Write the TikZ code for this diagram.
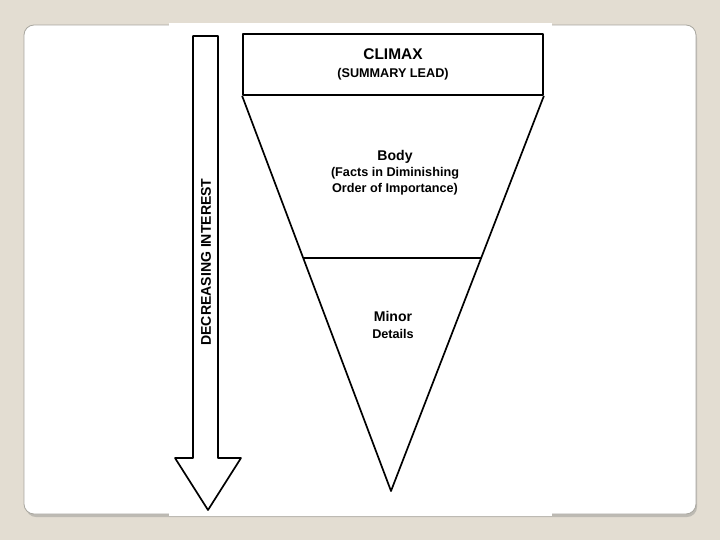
\documentclass[tikz,border=0pt]{standalone}
\usepackage{fontspec}
\setmainfont{Liberation Sans}
\usepackage{tikz}
\usetikzlibrary{calc}
\definecolor{PageBg}{HTML}{E3DDD2}
\definecolor{CardEdge}{HTML}{A9A7A0}
\definecolor{CardShade}{HTML}{BDBAB3}

\begin{document}
\begin{tikzpicture}[
  x=0.025cm,y=-0.025cm,
  lbl/.style={font=\bfseries\fontsize{9}{11.5}\selectfont,align=center,inner sep=0pt},
  ln/.style={line width=1.2pt,line join=round}
]
  % slide background and card
  \fill[PageBg] (0,0) rectangle (720,540);
  \useasboundingbox (0,0) rectangle (720,540);
  \fill[CardShade,rounded corners=0.25cm] (26,28) rectangle (697,517);
  \filldraw[fill=white,draw=CardEdge,line width=0.6pt,rounded corners=0.25cm] (24,25) rectangle (696,514);
  \fill[white] (169,23) rectangle (552,516);

  % inverted pyramid
  \node[draw,ln,minimum width=7.5cm,minimum height=1.525cm,lbl,
    font=\bfseries\fontsize{9}{12.8}\selectfont] (lead) at (393,64.5)
    {{\fontsize{11}{12.8}\selectfont CLIMAX}\\(SUMMARY LEAD)};
  \coordinate (tip) at (391,491);
  \draw[ln] (lead.south west) -- (tip) -- (lead.south east);
  \coordinate (divL) at ($(lead.south west)!0.41!(tip)$);
  \coordinate (divR) at ($(lead.south east)!0.41!(tip)$);
  \draw[ln] (divL) -- (divR);
  \node[lbl] (body) at (395,172.5)
    {{\fontsize{10}{11.5}\selectfont Body}\\(Facts in Diminishing\\Order of Importance)};
  \node[lbl] (minor) at (393,325)
    {{\fontsize{10}{11.5}\selectfont Minor}\\Details};

  % interest arrow
  \draw[ln] (193,36) -- (218,36) -- (218,458) -- (241,458) -- (208,510)
    -- (175,458) -- (193,458) -- cycle;
  \node[lbl,rotate=90,font=\bfseries\fontsize{10}{12}\selectfont] (interest) at (206,262)
    {DECREASING INTEREST};
\end{tikzpicture}
\end{document}
